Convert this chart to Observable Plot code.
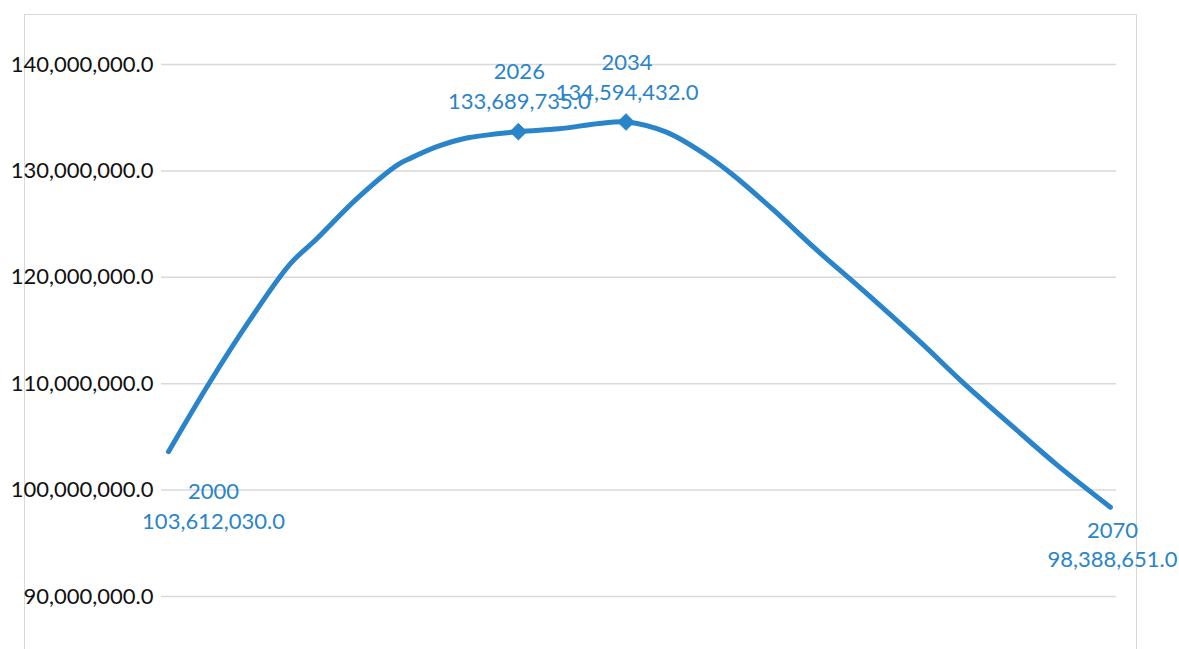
<!DOCTYPE html>
<html>
<head>
<meta charset="utf-8">
<script src="https://cdn.jsdelivr.net/npm/d3@7"></script>
<script src="https://cdn.jsdelivr.net/npm/@observablehq/plot@0.6"></script>
<style>
  html, body { margin: 0; padding: 0; background: #fff; }
  #wrap { position: relative; width: 1179px; height: 649px; overflow: hidden; }
  #border { position: absolute; left: 24px; top: 14px; width: 1113px; height: 700px;
            border: 1.5px solid #d9d9d9; box-sizing: border-box; }
  #chart { position: absolute; left: 0; top: 0; }
</style>
</head>
<body>
<div id="wrap"><div id="border"></div><div id="chart"></div></div>
<script>
// Population series
const years = [2000, 2003, 2006, 2009, 2011, 2014, 2017, 2018, 2020, 2022, 2026, 2029, 2032, 2034,
               2037, 2040, 2042, 2045, 2048, 2052, 2056, 2059, 2063, 2066, 2070];
const population = [103612030, 110000000, 115900000, 121200000, 123600000, 127400000, 130550000,
                    131200000, 132300000, 133050000, 133689735, 133960000, 134450000, 134594432,
                    133640000, 131450000, 129570000, 126280000, 122760000, 118340000, 113760000,
                    110150000, 105680000, 102400000, 98388651];
// Points that carry a marker and/or a label
const markedYears = [2026, 2034];
const labelledYears = [2000, 2026, 2034, 2070];
const yTicks = [90000000, 100000000, 110000000, 120000000, 130000000, 140000000];

const data = years.map((y, i) => ({year: y, value: population[i]}));
const fmt = d3.format(",.1f");
const blue = "#2a84c9";
const pick = (yr) => data.filter(d => d.year === yr);
const label = d => `${d.year}\n${fmt(d.value)}`;

const textOpts = {x: "year", y: "value", text: label, fill: blue, fontSize: 22,
                  lineHeight: 1.34, lineAnchor: "middle", textAnchor: "middle"};

const chart = Plot.plot({
  width: 1179,
  height: 649,
  marginLeft: 161,
  marginRight: 63,
  marginTop: 64,
  marginBottom: 53,
  style: {fontFamily: "Lato, 'Noto Sans', sans-serif", background: "transparent", overflow: "visible"},
  x: {type: "linear", domain: [1999.48, 2070.45], axis: null},
  y: {domain: [90000000, 140000000], ticks: yTicks, tickFormat: fmt, tickSize: 0, tickPadding: 8,
      label: null, grid: false},
  marks: [
    Plot.ruleY(yTicks, {stroke: "#d9d9d9", strokeWidth: 1.5}),
    Plot.axisY({ticks: yTicks, tickFormat: fmt, tickSize: 0, tickPadding: 8, fontSize: 22,
                fill: "#111", label: null}),
    Plot.line(data, {x: "year", y: "value", stroke: blue, strokeWidth: 5, curve: "catmull-rom"}),
    Plot.dot(data.filter(d => markedYears.includes(d.year)),
             {x: "year", y: "value", symbol: "diamond2", r: 7.5, fill: blue, stroke: blue, strokeWidth: 1}),
    Plot.text(pick(labelledYears[0]), {...textOpts, dx: 45, dy: 53}),
    Plot.text(pick(labelledYears[1]), {...textOpts, dx: 1, dy: -47}),
    Plot.text(pick(labelledYears[2]), {...textOpts, dx: 1, dy: -46.5}),
    Plot.text(pick(labelledYears[3]), {...textOpts, dx: 2, dy: 36})
  ]
});
document.getElementById("chart").appendChild(chart);
</script>
</body>
</html>
